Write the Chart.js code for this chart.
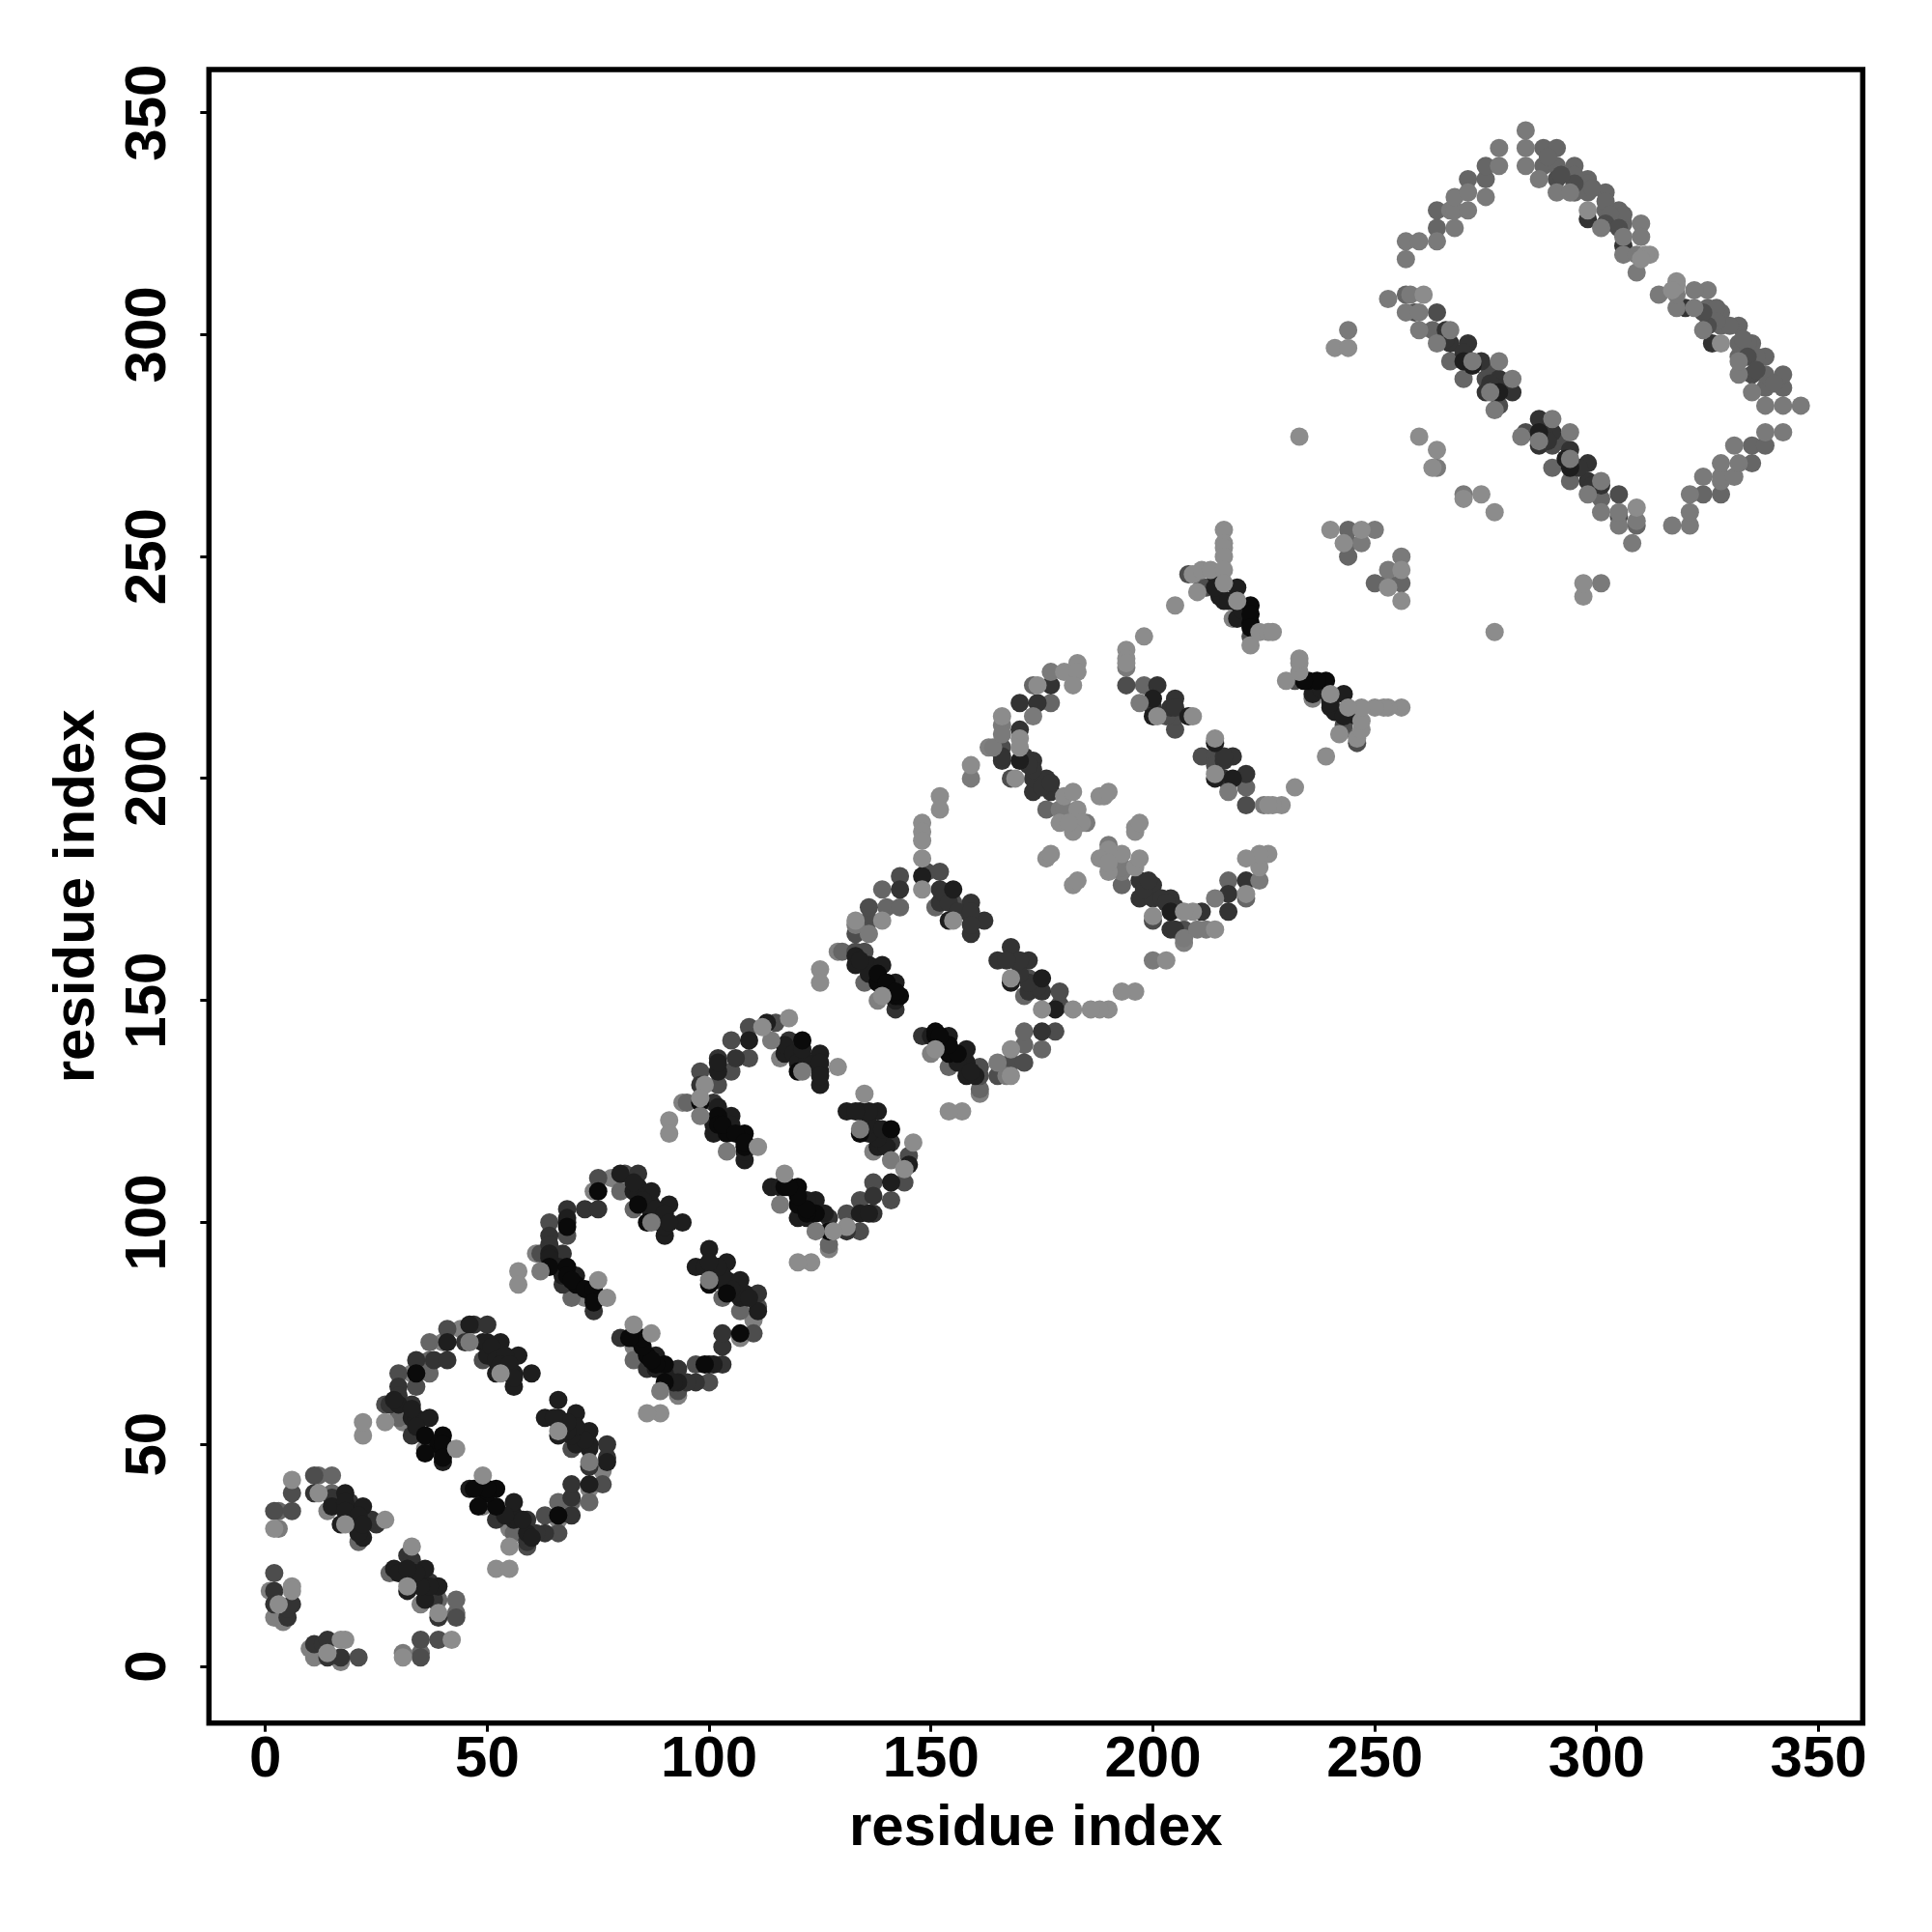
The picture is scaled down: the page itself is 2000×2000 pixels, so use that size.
<!DOCTYPE html>
<html>
<head>
<meta charset="utf-8">
<script src="https://cdn.jsdelivr.net/npm/chart.js@4"></script>
<style>
  body { margin: 0; background: #fff; }
  canvas { display: block; }
</style>
</head>
<body>
<canvas id="contactMap" width="2000" height="2000"></canvas>
<script>
// contact pairs, [residue, residue], one list per grey level
const paleContacts = [[6,18],[18,6],[6,17],[17,6],[3,14],[14,3],[6,42],[42,6],[2,31],[31,2],[12,39],[39,12],[18,32],[32,18],[27,33],[33,27],[22,52],[52,22],[22,55],[55,22],[27,55],[55,27],[43,49],[49,43],[53,66],[66,53],
  [57,89],[89,57],[57,86],[86,57],[75,87],[87,75],[77,83],[83,77],[91,123],[123,91],[91,120],[120,91],[99,131],[131,99],[98,128],[128,98],[112,144],[144,112],[118,146],[146,118],[129,135],[135,129],[111,117],[117,111],
  [125,157],[157,125],[125,154],[154,125],[133,168],[168,133],[139,168],[168,139],[139,151],[151,139],[148,190],[190,148],[148,188],[188,148],[148,186],[186,148],[148,182],[182,148],[148,175],[175,148],[155,168],[168,155],[152,196],[196,152],[152,193],[193,152],[159,203],[203,159],
  [166,214],[214,166],[170,209],[209,170],[170,207],[207,170],[174,221],[221,174],[180,224],[224,180],[183,226],[226,183],[183,224],[224,183],[182,221],[221,182],[169,200],[200,169],[180,196],[196,180],[182,197],[197,182],[183,193],[193,183],[184,190],[190,184],[179,190],[190,179],[182,188],[188,182],[181,190],[190,181],[189,196],[196,189],[188,196],[196,188],[190,197],[197,190],[176,182],[182,176],[177,183],[183,177],
  [194,229],[229,194],[194,227],[227,194],[194,226],[226,194],[201,214],[214,201],[209,214],[214,209],[198,232],[232,198],[205,239],[239,205],[209,246],[246,209],[210,242],[242,210],[211,247],[247,211],[213,247],[247,213],[216,256],[256,216],[216,253],[253,216],[216,252],[252,216],[216,250],[250,216],[216,247],[247,216],[216,244],[244,216],[219,240],[240,219],[222,230],[230,222],[224,233],[233,224],[226,233],[233,226],[227,233],[233,227],[240,256],[256,240],[243,253],[253,243],[247,256],[256,247],
  [233,277],[277,233],[241,297],[297,241],[244,297],[297,244],[260,277],[277,260],[264,274],[274,264],[263,270],[270,263],[298,328],[328,298],[312,318],[318,312],[311,318],[318,311],[310,317],[317,310],[261,309],[309,261]];
const silverContacts = [[3,31],[31,3],[62,89],[89,62],[87,100],[100,87],[46,73],[73,46],[98,124],[124,98],[114,141],[141,114],[121,134],[134,121],[104,116],[116,104],[133,167],[167,133],[136,165],[165,136],[159,200],[200,159],[164,207],[207,164],[166,212],[212,166],[166,210],[210,166],[173,214],[214,173],[177,224],[224,177],[179,193],[193,179],[180,193],[193,180],[185,190],[190,185],[194,225],[225,194],[197,217],[217,197],[244,301],[301,244],[250,256],[256,250],[247,253],[253,247],[264,270],[270,264],
  [257,317],[317,257],[257,321],[321,257],[260,321],[321,260],[264,321],[321,264],[268,324],[324,268],[267,328],[328,267],[268,328],[328,268],[271,328],[328,271],[268,331],[331,268],[271,332],[332,271],[275,331],[331,275],[278,338],[338,278],[278,342],[342,278],[284,346],[346,284],[284,342],[342,284],[284,338],[338,284],[287,335],[335,287],[291,332],[332,291],[294,332],[332,294],[301,324],[324,301],[310,325],[325,310],[306,322],[322,306],[310,322],[322,310],[306,318],[318,306],[309,318],[318,309],[309,314],[314,309],
  [253,308],[308,253],[258,309],[309,258],[257,305],[305,257],[260,305],[305,260],[260,301],[301,260],[264,298],[298,264],[267,301],[301,267],[278,294],[294,278],[281,290],[290,281],[276,287],[287,276],[277,283],[283,277],[272,294],[294,272]];
const blackContacts = [[34,66],[66,34],[36,52],[52,36],[40,52],[52,40],[40,49],[49,40],[64,90],[90,64],[68,90],[90,68],[70,86],[86,70],[74,83],[83,74],[75,107],[107,75],[84,104],[104,84],[86,100],[100,86],[98,127],[127,98],[102,124],[124,102],[104,120],[120,104],[108,120],[120,108],[108,117],[117,108],[120,134],[134,120],[121,141],[141,121],[138,154],[154,138],[142,151],[151,142],[143,151],[151,143],[222,239],[239,222],[222,235],[235,222],
  [39,50],[50,39],[36,48],[48,36],[40,50],[50,40],[40,47],[47,40],[68,88],[88,68],[69,87],[87,69],[72,85],[85,72],[74,85],[85,74],[74,82],[82,74],[68,99],[99,68],[102,122],[122,102],[103,122],[122,103],[106,120],[120,106],[108,118],[118,108],[138,156],[156,138],[140,154],[154,140],[142,152],[152,142],[222,237],[237,222],[222,234],[234,222]];
const nearBlackContacts = [[15,36],[36,15],[18,39],[39,18],[17,32],[32,17],[19,35],[35,19],[21,32],[32,21],[22,36],[36,22],[22,29],[29,22],[30,59],[59,30],[33,56],[56,33],[34,56],[56,34],[37,56],[56,37],[40,46],[46,40],[41,73],[73,41],[46,77],[77,46],[49,73],[73,49],[50,70],[70,50],[53,70],[70,53],[53,73],[73,53],[52,66],[66,52],[56,66],[66,56],[57,70],[70,57],[60,66],[66,60],[56,63],[63,56],
  [64,93],[93,64],[67,89],[89,67],[68,100],[100,68],[80,111],[111,80],[83,107],[107,83],[84,108],[108,84],[87,104],[104,87],[87,107],[107,87],[90,97],[97,90],[90,100],[100,90],[91,104],[104,91],[94,100],[100,94],
  [102,134],[134,102],[109,141],[141,109],[113,145],[145,113],[117,138],[138,117],[121,138],[138,121],[125,131],[131,125],[125,134],[134,125],[125,138],[138,125],[101,120],[120,101],[105,124],[124,105],[108,114],[114,108],
  [133,158],[158,133],[136,158],[158,136],[139,158],[158,139],[142,154],[154,142],[148,178],[178,148],[155,175],[175,155],[154,168],[168,154],[170,204],[204,170],[200,218],[218,200],[200,214],[214,200],[208,214],[214,208],
  [214,246],[246,214],[215,243],[243,215],[216,240],[240,216],[219,243],[243,219],[219,236],[236,219],[218,240],[240,218],[270,294],[294,270],[278,287],[287,278],
  [18,37],[37,18],[18,35],[35,18],[21,34],[34,21],[21,30],[30,21],[22,32],[32,22],[34,54],[54,34],[50,73],[73,50],[51,72],[72,51],[52,69],[69,52],[54,70],[70,54],[53,68],[68,53],[55,68],[68,55],[56,65],[65,56],[29,60],[60,29],[33,58],[58,33],
  [64,92],[92,64],[66,90],[90,66],[67,88],[88,67],[70,88],[88,70],[84,106],[106,84],[85,105],[105,85],[87,102],[102,87],[88,103],[103,88],[90,102],[102,90],[90,99],[99,90],[91,100],[100,91],[83,109],[109,83],[68,101],[101,68],
  [101,122],[122,101],[102,126],[126,102],[105,122],[122,105],[108,116],[116,108],[117,140],[140,117],[119,138],[138,119],[120,136],[136,120],[122,136],[136,122],[125,136],[136,125],[125,133],[133,125],[121,139],[139,121],[102,136],[136,102],
  [136,156],[156,136],[142,150],[150,142],[133,160],[160,133],[134,159],[159,134],[215,241],[241,215],[217,240],[240,217],[214,243],[243,214],[220,238],[238,220],[272,293],[293,272]];
const charcoalContacts = [[2,17],[17,2],[2,14],[14,2],[5,11],[11,5],[5,13],[13,5],[6,14],[14,6],[11,39],[39,11],[19,36],[36,19],[25,32],[32,25],[28,59],[59,28],[30,63],[63,30],[33,59],[59,33],[33,52],[52,33],[34,69],[69,34],[37,49],[49,37],[38,69],[69,38],[41,69],[69,41],[45,73],[73,45],[47,77],[77,47],[50,77],[77,50],
  [64,97],[97,64],[67,86],[86,67],[67,93],[93,67],[68,103],[103,68],[72,103],[103,72],[74,80],[80,74],[75,103],[103,75],[84,111],[111,84],[98,131],[131,98],[101,127],[127,101],[102,137],[137,102],[106,137],[137,106],[118,141],[141,118],
  [142,148],[148,142],[143,175],[175,143],[152,172],[172,152],[152,175],[175,152],[159,165],[165,159],[159,169],[169,159],[159,172],[172,159],[162,168],[168,162],[166,204],[204,166],[173,197],[197,173],[173,200],[200,173],[173,204],[204,173],[176,200],[200,176],[177,197],[197,177],[170,211],[211,170],[170,217],[217,170],[174,217],[217,174],[177,221],[221,177],[201,221],[221,201],[205,218],[218,205],
  [298,326],[326,298],[306,320],[320,306],[266,301],[301,266],[267,298],[298,267],[271,298],[298,271],[274,294],[294,274],[275,287],[287,275],[278,290],[290,278],[281,287],[287,281],
  [19,37],[37,19],[15,38],[38,15],[24,33],[33,24],[30,61],[61,30],[64,95],[95,64],[153,174],[174,153],[154,172],[172,154],[156,170],[170,156],[159,170],[170,159],[159,167],[167,159],[166,205],[205,166],[173,202],[202,173],[175,198],[198,175],[177,199],[199,177],[171,205],[205,171],[172,203],[203,172],[200,216],[216,200],[204,216],[216,204],[205,216],[216,205],[266,299],[299,266],[270,296],[296,270],[278,288],[288,278],[276,289],[289,276]];
const slateContacts = [[2,21],[21,2],[2,35],[35,2],[6,35],[35,6],[6,39],[39,6],[11,43],[43,11],[27,59],[59,27],[30,66],[66,30],[34,63],[63,34],[41,76],[76,41],[49,69],[69,49],[62,93],[93,62],[64,100],[100,64],[68,97],[97,68],[75,110],[110,75],[81,111],[111,81],[98,134],[134,98],[102,131],[131,102],[105,134],[134,105],[105,141],[141,105],[109,137],[137,109],[109,144],[144,109],[115,145],[145,115],
  [133,161],[161,133],[133,165],[165,133],[135,161],[161,135],[136,168],[168,136],[136,171],[171,136],[143,178],[178,143],[149,179],[179,149],[152,179],[179,152],[155,172],[172,155],[166,207],[207,166],[168,200],[200,168],[194,221],[221,194],[205,211],[211,205],[205,214],[214,205],[208,246],[246,208],[212,243],[243,212],[222,232],[232,222],[291,335],[335,291],[295,334],[334,295],[302,325],[325,302],[259,305],[305,259],[264,305],[305,264],[275,290],[290,275],[278,284],[284,278],
  [203,214],[214,203],[276,292],[292,276],[305,324],[324,305],[292,336],[336,292]];
const greyContacts = [[3,35],[35,3],[12,43],[43,12],[15,39],[39,15],[15,43],[43,15],[21,28],[28,21],[30,56],[56,30],[37,66],[66,37],[37,69],[69,37],[37,73],[73,37],[80,107],[107,80],[83,103],[103,83],[69,83],[83,69],[95,127],[127,95],[130,161],[161,130],[135,154],[154,135],[139,175],[175,139],[140,171],[171,140],[143,171],[171,143],[151,171],[171,151],[173,221],[221,173],[177,217],[217,177],[176,193],[193,176],[198,221],[221,198],[211,243],[243,211],[244,256],[256,244],[244,253],[253,244],[244,250],[250,244],
  [264,324],[324,264],[264,328],[328,264],[271,335],[335,271],[275,335],[335,275],[275,338],[338,275],[288,342],[342,288],[288,338],[338,288],[291,342],[342,291],[291,338],[338,291],[295,338],[338,295],[295,332],[332,295],[298,335],[335,298],[298,332],[332,298],[302,332],[332,302],[302,328],[328,302],[305,328],[328,305],[306,325],[325,306],[257,309],[309,257],[263,301],[301,263],[267,294],[294,267],[270,290],[290,270],
  [295,336],[336,295],[298,334],[334,298],[302,330],[330,302],[306,327],[327,306],[303,327],[327,303],[299,333],[333,299],[289,340],[340,289]];
// these sit behind the darker dots in the clusters
const underContacts = [[1,17],[17,1],[2,11],[11,2],[4,10],[10,4],[14,35],[35,14],[40,73],[73,40],[44,76],[76,44],[33,66],[66,33],[61,93],[93,61],[78,110],[110,78],[72,83],[83,72],[94,127],[127,94],[74,107],[107,74],[36,49],[49,36],[31,55],[55,31],[163,207],[207,163],[218,236],[236,218],[129,161],[161,129],[116,137],[137,116],[138,150],[150,138]];
const tickValues = [0, 50, 100, 150, 200, 250, 300, 350];

function toPoints(list) {
    return list.map(function (p) { return { x: p[0], y: p[1] }; });
}

function shade(list, colour) {
    return {
        data: toPoints(list),
        backgroundColor: colour,
        pointBorderWidth: 0,
        pointRadius: 9.5,
        pointHoverRadius: 9.5
    };
}

// draws the closed black frame round the plot
const frame = {
    id: 'frame',
    afterDraw: function (chart) {
        const a = chart.chartArea;
        const ctx = chart.ctx;
        ctx.save();
        ctx.strokeStyle = '#000';
        ctx.lineWidth = 5.5;
        ctx.strokeRect(a.left, a.top, a.right - a.left, a.bottom - a.top);
        ctx.restore();
    }
};

function axis(min, max, titlePadding, tickPadding) {
    return {
        type: 'linear',
        min: min,
        max: max,
        afterBuildTicks: function (scale) {
            scale.ticks = tickValues.map(function (v) { return { value: v }; });
        },
        grid: { drawOnChartArea: false, drawTicks: true, tickLength: 9, tickWidth: 3, tickColor: '#000' },
        border: { display: false },
        ticks: {
            color: '#000',
            autoSkip: false,
            padding: tickPadding,
            font: { family: '"Liberation Sans"', size: 60, weight: 'bold' }
        },
        title: {
            display: true,
            text: 'residue index',
            color: '#000',
            padding: titlePadding,
            font: { family: '"Liberation Sans"', size: 60, weight: 'bold' }
        }
    };
}

const xAxis = axis(-12.71, 359.95, { top: 0, bottom: 70.5 }, -6);
xAxis.afterFit = function (scale) { scale.height = 216.3; };

const yAxis = axis(-12.77, 359.7, { top: 44, bottom: 0 }, 2.5);
yAxis.afterFit = function (scale) { scale.width = 216.3; };
yAxis.ticks.minRotation = 90;
yAxis.ticks.maxRotation = 90;
yAxis.ticks.crossAlign = 'center';

new Chart(document.getElementById('contactMap').getContext('2d'), {
    type: 'scatter',
    data: {
        // first dataset is drawn on top
        datasets: [
            shade(paleContacts, '#8c8c8c'),
            shade(silverContacts, '#7a7a7a'),
            shade(blackContacts, '#0a0a0a'),
            shade(nearBlackContacts, '#1e1e1e'),
            shade(charcoalContacts, '#333333'),
            shade(slateContacts, '#4d4d4d'),
            shade(greyContacts, '#666666'),
            shade(underContacts, '#808080')
        ]
    },
    options: {
        responsive: false,
        animation: false,
        layout: { padding: { top: 72, right: 71.7, left: 0, bottom: 0 } },
        plugins: { legend: { display: false }, tooltip: { enabled: false } },
        scales: { x: xAxis, y: yAxis }
    },
    plugins: [frame]
});
</script>
</body>
</html>
